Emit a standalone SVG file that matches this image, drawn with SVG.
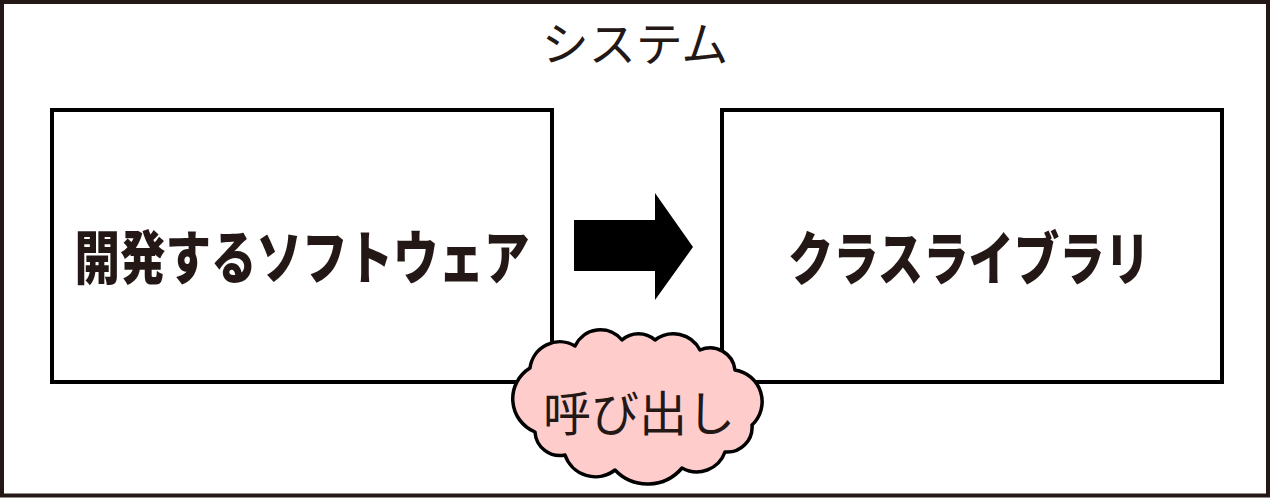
<svg xmlns="http://www.w3.org/2000/svg" width="1271" height="499" viewBox="0 0 1271 499">
<style>
.frame{fill:#fff;stroke:#231815;stroke-width:4}
.box{fill:#fff;stroke:#000;stroke-width:4}
.t{font-family:"Noto Sans CJK JP","Noto Sans CJK SC",sans-serif;fill:#231815;text-anchor:middle}
.light{font-weight:400}
.bold{font-weight:900}
.cloud{fill:#ffcccc;stroke:#000;stroke-width:3.5;stroke-linejoin:round}
</style>
<g id="system">
<rect class="frame" x="2" y="2" width="1266" height="493.5"/>
<text class="t light" x="635" y="61" font-size="47">システム</text>
</g>
<g id="software">
<rect class="box" x="52" y="110" width="500" height="272"/>
<text class="t bold" x="302" y="279" font-size="58" textLength="455" lengthAdjust="spacingAndGlyphs">開発するソフトウェア</text>
</g>
<g id="library">
<rect class="box" x="722" y="110" width="500" height="272"/>
<text class="t bold" x="969" y="280" font-size="58" textLength="362" lengthAdjust="spacingAndGlyphs">クラスライブラリ</text>
</g>
<g id="connectors">
<polygon points="574,220 655,220 655,193 693,247 655,300 655,271 574,271" fill="#000"/>
</g>
<g id="call">
<path class="cloud" d="M530,368 A30,30 0 0 1 575,346 A28,28 0 0 1 622,340 A25,25 0 0 1 655,340 A30,30 0 0 1 700,350 A25,25 0 0 1 735,370 A32,32 0 0 1 752,425 A25,25 0 0 1 725,452 A30,30 0 0 1 682,468 A45,45 0 0 1 615,470 A32,32 0 0 1 565,455 A25,25 0 0 1 535,432 A36,36 0 0 1 530,368 Z"/>
<text class="t light" x="639" y="431" font-size="48">呼び出し</text>
</g>
</svg>
